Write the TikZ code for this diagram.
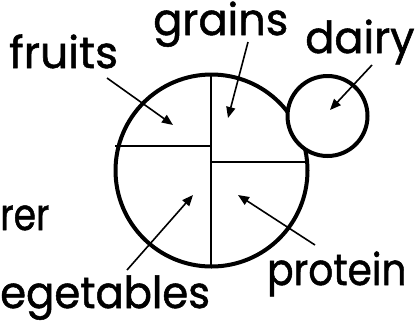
\documentclass[tikz,border=0pt]{standalone}
\usepackage{fontspec}
\setmainfont{Poppins}[FakeBold=1.2]
\usetikzlibrary{arrows.meta}
\begin{document}
\begin{tikzpicture}[x=1pt,y=-1pt,
  lbl/.style={anchor=base west,inner sep=0pt,font=\fontsize{44}{46}\selectfont},
  arr/.style={line width=1.6pt,-{Triangle[length=11pt,width=9pt]}},
  div/.style={line width=1.5pt},
  rim/.style={line width=4pt}]
\useasboundingbox[fill=white] (0,0) rectangle (417,322);
% circles
\coordinate (c) at (211.5,170.5);
\coordinate (d) at (327.5,116);
\draw[rim] (c) circle[radius=96];
\draw[rim,fill=white] (d) circle[radius=40];
% dividers
\coordinate (top) at (211,74);
\coordinate (bot) at (211,267);
\coordinate (lw) at (115,146);
\coordinate (lm) at (211,146);
\coordinate (rm) at (211,162);
\coordinate (re) at (308,162);
\draw[div] (top) -- (bot);
\draw[div] (lw) -- (lm);
\draw[div] (rm) -- (re);
% labels
\node[lbl] (fruits) at (9,68) {fruits};
\node[lbl] (grains) at (153,35) {\scalebox{0.98}[1]{grains}};
\node[lbl] (dairy) at (305,53) {\scalebox{0.98}[1]{dairy}};
\node[lbl] (rer) at (0,230) {\scalebox{0.82}[1]{rer}};
\node[lbl] (veg) at (0,308) {\scalebox{0.95}[1]{egetables}};
\node[lbl] (protein) at (267,285) {\scalebox{0.89}[1]{protein}};
% arrow endpoints
\coordinate (fa) at (107,78);  \coordinate (fb) at (173,125);
\coordinate (ga) at (248,42);  \coordinate (gb) at (228,118);
\coordinate (da) at (372,65);  \coordinate (db) at (330,110);
\coordinate (va) at (127,270); \coordinate (vb) at (193,195);
\coordinate (pa) at (315,245); \coordinate (pb) at (238,195);
\draw[arr] (fa) -- (fb);
\draw[arr] (ga) -- (gb);
\draw[arr] (da) -- (db);
\draw[arr] (va) -- (vb);
\draw[arr] (pa) -- (pb);
\end{tikzpicture}
\end{document}
